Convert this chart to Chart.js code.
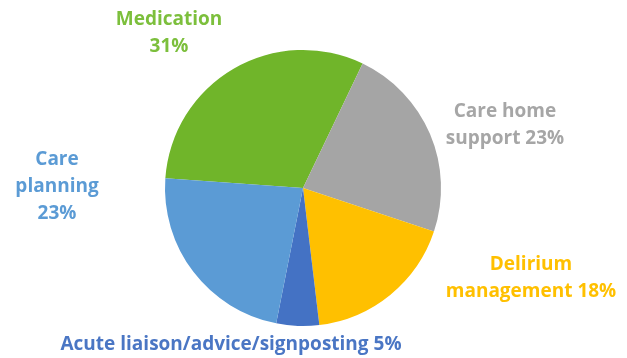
<!DOCTYPE html>
<html>
<head>
<meta charset="utf-8">
<script src="https://cdn.jsdelivr.net/npm/chart.js@4.4.1/dist/chart.umd.min.js"></script>
<style>
  html, body { margin: 0; padding: 0; background: #ffffff; }
  #wrap { width: 627px; height: 358px; }
</style>
</head>
<body>
<div id="wrap"><canvas id="pie"></canvas></div>
<script>
// Chart data
const categories = ['Medication', 'Care home support', 'Delirium management', 'Acute liaison/advice/signposting', 'Care planning'];
const shares = [31, 23, 18, 5, 23];
const sliceColors = ['#70B52A', '#A5A5A5', '#FFC000', '#4472C4', '#5B9BD5'];
const labelColors = ['#7CBF3C', '#A6A6A6', '#FFC000', '#4A76C4', '#5B9BD5'];

// Label text split into lines, and where each block sits relative to the pie centre
const labelLines = [
    ['Medication', '31%'],
    ['Care home', 'support 23%'],
    ['Delirium', 'management 18%'],
    ['Acute liaison/advice/signposting 5%'],
    ['Care', 'planning', '23%']
];
const labelOffsets = [
    { dx: -134, dy: -168 },
    { dx: 202, dy: -76 },
    { dx: 228, dy: 77 },
    { dx: -72, dy: 157 },
    { dx: -246, dy: -28 }
];
const lineHeight = 27;

// Plugin to draw the outside labels
const outsideLabels = {
    id: 'outsideLabels',
    afterDraw(chart) {
        const ctx = chart.ctx;
        const arc = chart.getDatasetMeta(0).data[0];
        ctx.save();
        ctx.font = 'bold 19px "Open Sans"';
        ctx.textAlign = 'center';
        ctx.textBaseline = 'middle';
        labelLines.forEach((lines, i) => {
            ctx.fillStyle = labelColors[i];
            const x = arc.x + labelOffsets[i].dx;
            const y = arc.y + labelOffsets[i].dy;
            lines.forEach((line, j) => {
                ctx.fillText(line, x, y + j * lineHeight);
            });
        });
        ctx.restore();
    }
};

new Chart(document.getElementById('pie'), {
    type: 'pie',
    data: {
        labels: categories,
        datasets: [{
            data: shares,
            backgroundColor: sliceColors,
            borderWidth: 0
        }]
    },
    options: {
        responsive: true,
        maintainAspectRatio: false,
        animation: false,
        rotation: -86,
        layout: { padding: { top: 50, bottom: 32, left: 0, right: 21 } },
        plugins: {
            legend: { display: false },
            tooltip: { enabled: false }
        }
    },
    plugins: [outsideLabels]
});
</script>
</body>
</html>
